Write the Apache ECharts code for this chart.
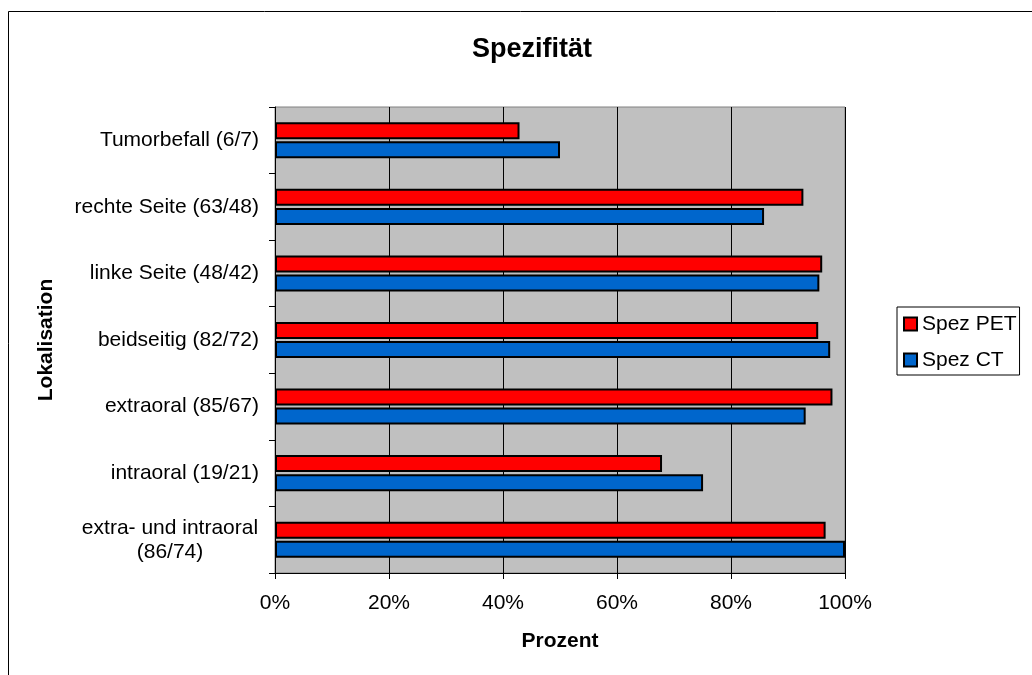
<!DOCTYPE html>
<html>
<head>
<meta charset="utf-8">
<script src="https://cdn.jsdelivr.net/npm/echarts@6/dist/echarts.min.js"></script>
<style>
  html, body { margin: 0; padding: 0; background: #fff; }
  #chart { width: 1032px; height: 675px; }
</style>
</head>
<body>
<div id="chart"></div>
<script>
// Localisation categories, listed top to bottom
const categories = [
  'Tumorbefall (6/7)',
  'rechte Seite (63/48)',
  'linke Seite (48/42)',
  'beidseitig (82/72)',
  'extraoral (85/67)',
  'intraoral (19/21)',
  'extra- und intraoral\n(86/74)'
];
// Specificity in percent
const spezPET = [42.9, 92.7, 96.0, 95.3, 97.8, 67.9, 96.6];
const spezCT  = [50.0, 85.8, 95.5, 97.4, 93.1, 75.1, 100.0];
const seriesNames = ['Spez PET', 'Spez CT'];
const xTicks = [0, 20, 40, 60, 80, 100];

const FONT = '"Liberation Sans", Arial, sans-serif';
const chart = echarts.init(document.getElementById('chart'), null, { renderer: 'canvas' });

chart.setOption({
  animation: false,
  backgroundColor: '#ffffff',
  graphic: [
    {
      // chart frame (extends past the right and bottom edges)
      type: 'rect',
      shape: { x: 8.5, y: 11.5, width: 1048, height: 690 },
      style: { fill: 'none', stroke: '#000', lineWidth: 1 },
      silent: true
    },
    {
      type: 'text',
      x: 532,
      y: 50,
      style: {
        text: 'Spezifität',
        fontFamily: FONT, fontSize: 27, fontWeight: 'bold', fill: '#000',
        align: 'center', verticalAlign: 'middle'
      },
      silent: true
    }
  ],
  legend: {
    orient: 'vertical',
    left: 897,
    top: 307,
    padding: [5, 3, 3, 6],
    itemGap: 12,
    itemWidth: 13,
    itemHeight: 13,
    icon: 'rect',
    borderColor: '#000',
    borderWidth: 1,
    backgroundColor: '#fff',
    textStyle: { fontFamily: FONT, fontSize: 21, lineHeight: 24, color: '#000' },
    data: seriesNames
  },
  grid: {
    left: 275, right: 187, top: 107, bottom: 102,
    show: true,
    backgroundColor: '#c0c0c0',
    borderColor: '#808080',
    borderWidth: 1
  },
  xAxis: {
    type: 'value',
    min: 0, max: 100, interval: 20,
    name: 'Prozent',
    nameLocation: 'middle',
    nameGap: 58,
    nameTextStyle: { fontFamily: FONT, fontSize: 21, fontWeight: 'bold', color: '#000' },
    axisLine: { show: true, lineStyle: { color: '#000', width: 1 } },
    axisTick: { show: true, length: 6, lineStyle: { color: '#000' } },
    axisLabel: {
      margin: 20,
      fontFamily: FONT, fontSize: 21, color: '#000',
      formatter: v => (xTicks.includes(v) ? v + '%' : '')
    },
    splitLine: { show: true, lineStyle: { color: '#000', width: 1 } }
  },
  yAxis: {
    type: 'category',
    inverse: true,
    data: categories,
    name: 'Lokalisation',
    nameLocation: 'middle',
    nameGap: 218,
    nameRotate: 90,
    nameTextStyle: { fontFamily: FONT, fontSize: 21, fontWeight: 'bold', color: '#000' },
    axisLine: { show: true, lineStyle: { color: '#000', width: 1 } },
    axisTick: { show: true, length: 6, inside: false, lineStyle: { color: '#000' } },
    axisLabel: {
      margin: 16,
      fontFamily: FONT, fontSize: 21, color: '#000', lineHeight: 24,
      formatter: v => v.indexOf('\n') >= 0
        ? v.split('\n').map(s => '{m|' + s + '}').join('\n')
        : v,
      rich: {
        m: { width: 178, align: 'center', fontFamily: FONT, fontSize: 21, color: '#000', lineHeight: 24 }
      }
    },
    splitLine: { show: false }
  },
  series: [
    {
      name: seriesNames[0],
      type: 'bar',
      data: spezPET,
      barWidth: 17,
      barGap: '12%',
      itemStyle: { color: '#ff0000', borderColor: '#000', borderWidth: 2 }
    },
    {
      name: seriesNames[1],
      type: 'bar',
      data: spezCT,
      barWidth: 17,
      barGap: '12%',
      itemStyle: { color: '#0066cc', borderColor: '#000', borderWidth: 2 }
    }
  ]
});
</script>
</body>
</html>
